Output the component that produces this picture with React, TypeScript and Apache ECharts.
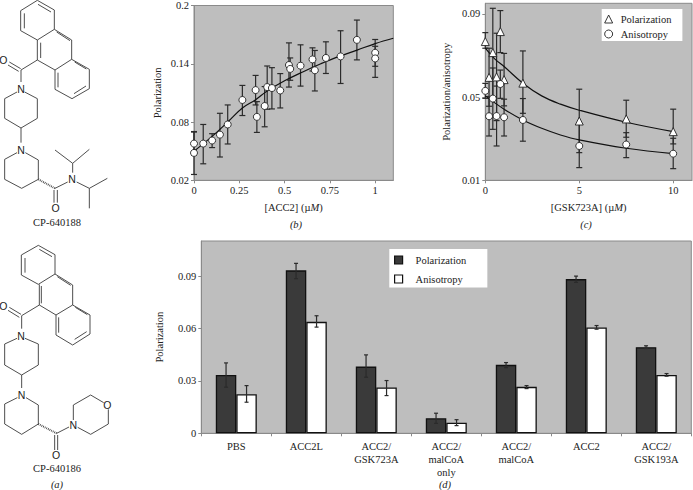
import React, { useEffect, useRef } from "react";
import * as echarts from "echarts";

const SERIF = "'Liberation Serif', 'Times New Roman', serif";
const INK = "#2b2b2b";
const GREY_PLOT = "#bebebe";
const GREY_AXIS = "#8a8a8a";

// Panel (b): x, y, low, high
const acc2Points = [
  [0, 0.0482, 0.026, 0.0702],
  [0, 0.0578, 0.0459, 0.0697],
  [0.051, 0.0578, 0.037, 0.0775],
  [0.1, 0.061, 0.0537, 0.068],
  [0.143, 0.067, 0.044, 0.089],
  [0.186, 0.0775, 0.0574, 0.0976],
  [0.267, 0.1027, 0.0867, 0.1177],
  [0.34, 0.1129, 0.0976, 0.128],
  [0.347, 0.0853, 0.0693, 0.101],
  [0.39, 0.0965, 0.0751, 0.1165],
  [0.404, 0.116, 0.0932, 0.1377],
  [0.43, 0.115, 0.0935, 0.136],
  [0.476, 0.1125, 0.0945, 0.1299],
  [0.524, 0.1387, 0.116, 0.1615],
  [0.531, 0.1347, 0.123, 0.146],
  [0.588, 0.138, 0.117, 0.1595],
  [0.654, 0.1445, 0.1326, 0.1564],
  [0.667, 0.1333, 0.112, 0.1537],
  [0.728, 0.146, 0.13, 0.1626],
  [0.809, 0.1476, 0.1197, 0.174],
  [0.899, 0.1646, 0.144, 0.185],
  [1, 0.1513, 0.1374, 0.165],
  [1, 0.1455, 0.126, 0.158],
];
const acc2Fit = [
  [0, 0.05], [0.1, 0.0652], [0.186, 0.08], [0.267, 0.0945], [0.34, 0.103], [0.4, 0.1115],
  [0.5, 0.1225], [0.6, 0.1316], [0.7, 0.14], [0.8, 0.1476], [0.9, 0.154], [1, 0.1608], [1.1, 0.1663],
];

// Panel (c)
const gskPolarization = [
  [0, 0.0767, 0.0735, 0.081],
  [0.2, 0.0595, 0.0456, 0.0735],
  [0.4, 0.0714, 0.05, 0.0927],
  [0.6, 0.0597, 0.0387, 0.0807],
  [0.8, 0.0815, 0.0714, 0.0916],
  [1, 0.0584, 0.0458, 0.071],
  [2, 0.0567, 0.0422, 0.0722],
  [5, 0.0385, 0.0233, 0.0538],
  [7.5, 0.0395, 0.0307, 0.0485],
  [10, 0.0334, 0.0275, 0.0442],
];
const gskAnisotropy = [
  [0, 0.053, 0.0494, 0.0566],
  [0.2, 0.0408, 0.0313, 0.0503],
  [0.4, 0.0493, 0.0345, 0.064],
  [0.6, 0.0409, 0.0265, 0.0553],
  [0.8, 0.0563, 0.0494, 0.063],
  [1, 0.0403, 0.0313, 0.049],
  [2, 0.039, 0.0288, 0.0493],
  [5, 0.0265, 0.0161, 0.0369],
  [7.5, 0.0272, 0.0209, 0.0329],
  [10, 0.0228, 0.0156, 0.0302],
];
const polarizationFit = [
  [0, 0.0735], [0.5, 0.0684], [1, 0.0647], [2, 0.0567], [3, 0.0506], [4, 0.0466], [5, 0.0437], [7.5, 0.0379], [10, 0.0334],
];
const anisotropyFit = [
  [0, 0.0506], [1, 0.0442], [2, 0.039], [3, 0.035], [4, 0.0318], [5, 0.0294], [7.5, 0.0254], [10, 0.0228],
];

// Panel (d)
const conditions = ["PBS", "ACC2L", "ACC2/\nGSK723A", "ACC2/\nmalCoA\nonly", "ACC2/\nmalCoA", "ACC2", "ACC2/\nGSK193A"];
const barPolarization = [0.0334, 0.0933, 0.0382, 0.0086, 0.0392, 0.0883, 0.0493];
const barPolarizationLow = [0.0264, 0.0885, 0.0321, 0.0057, 0.0376, 0.0864, 0.0485];
const barPolarizationHigh = [0.0403, 0.0973, 0.0449, 0.0115, 0.0405, 0.09, 0.0501];
const barAnisotropy = [0.0224, 0.0638, 0.0262, 0.0061, 0.0266, 0.0606, 0.0334];
const barAnisotropyLow = [0.0178, 0.0608, 0.0216, 0.0044, 0.0256, 0.0596, 0.0327];
const barAnisotropyHigh = [0.0273, 0.0673, 0.0302, 0.0078, 0.0273, 0.0617, 0.0342];

const ticksB = [0.02, 0.08, 0.14, 0.2];
const ticksBX = [0, 0.25, 0.5, 0.75, 1];
const ticksC = [0.01, 0.05, 0.09];
const ticksCX = [0, 5, 10];
const ticksD = [0, 0.03, 0.06, 0.09];

// Structure drawings, in 3x-zoom coordinates of the page
const structureA: number[][][] = [
  [[112, 1], [163, 30], [163, 88], [112, 120], [62, 92], [62, 32], [112, 1]],
  [[163, 88], [215, 120], [215, 178], [165, 210], [112, 180], [112, 120]],
  [[215, 178], [268, 208], [268, 266], [216, 296], [165, 268], [165, 210]],
  [[73, 40], [73, 85]], [[114, 13], [153, 36]], [[122, 128], [122, 174]], [[170, 96], [210, 122]],
  [[224, 186], [259, 207]], [[258, 258], [222, 281]], [[174, 218], [174, 262]],
  [[112, 180], [63, 210]], [[63, 210], [63, 246]], [[62, 206], [28, 186]], [[56, 214], [24, 195]],
  [[74, 276], [112, 296], [112, 355], [63, 384], [14, 355], [14, 296], [51, 276]],
  [[63, 384], [63, 428]],
  [[76, 458], [115, 480], [115, 538], [65, 565], [14, 538], [14, 478], [51, 458]],
  [[165, 565], [203, 546]], [[162, 570], [162, 608]], [[172, 570], [172, 608]],
  [[218, 518], [218, 490]], [[218, 490], [165, 450]], [[218, 490], [268, 448]],
  [[230, 546], [268, 565]], [[268, 565], [322, 535]], [[268, 565], [268, 625]],
];
const hashA: number[][][] = [[[115, 538], [165, 565]]];
const atomsA: [string, number, number][] = [
  ["O", 10, 180], ["N", 63, 268], ["N", 63, 450], ["N", 216, 537], ["O", 167, 625],
];

const structureB: number[][][] = [
  [[115, -14], [165, 14], [165, 72], [115, 103], [64, 75], [64, 15], [115, -14]],
  [[165, 72], [218, 105], [218, 165], [168, 195], [118, 165], [118, 103]],
  [[218, 165], [270, 195], [270, 252], [218, 285], [168, 255], [168, 195]],
  [[75, 24], [75, 68]], [[118, -2], [156, 20]], [[124, 108], [124, 160]], [[172, 80], [212, 106]],
  [[226, 172], [262, 194]], [[260, 245], [224, 268]], [[176, 202], [176, 248]],
  [[118, 165], [65, 197]], [[65, 197], [65, 236]], [[63, 193], [28, 172]], [[58, 202], [24, 181]],
  [[75, 265], [115, 282], [115, 345], [65, 375], [14, 345], [14, 282], [51, 265]],
  [[65, 375], [65, 414]],
  [[78, 443], [115, 465], [115, 522], [65, 553], [14, 522], [14, 462], [52, 443]],
  [[170, 550], [207, 531]], [[164, 555], [164, 600]], [[173, 555], [173, 600]],
  [[220, 510], [220, 465], [272, 435], [311, 458]], [[325, 478], [325, 522], [272, 553], [233, 532]],
];
const hashB: number[][][] = [[[115, 522], [170, 550]]];
const atomsB: [string, number, number][] = [
  ["O", 10, 167], ["N", 63, 257], ["N", 65, 435], ["N", 220, 525], ["O", 322, 465], ["O", 168, 615],
];

function structureGraphics(lines: number[][][], hash: number[][][], atoms: [string, number, number][], dy: number) {
  const out: any[] = [];
  for (const l of lines) {
    out.push({
      type: "polyline",
      silent: true,
      shape: { points: l.map(([x, y]) => [x / 3, y / 3 + dy]) },
      style: { stroke: "#3a3a3a", lineWidth: 0.9, fill: "none" },
    });
  }
  for (const l of hash) {
    out.push({
      type: "line",
      silent: true,
      shape: { x1: l[0][0] / 3, y1: l[0][1] / 3 + dy, x2: l[1][0] / 3, y2: l[1][1] / 3 + dy },
      style: { stroke: "#3a3a3a", lineWidth: 2, lineDash: [0.8, 1] },
    });
  }
  for (const [t, x, y] of atoms) {
    out.push({
      type: "text",
      silent: true,
      x: x / 3,
      y: y / 3 + dy,
      style: { text: t, font: "10.5px 'Liberation Sans', Arial, sans-serif", fill: "#222", align: "center", verticalAlign: "middle" },
    });
  }
  return out;
}

function label(text: string, x: number, y: number) {
  return {
    type: "text",
    silent: true,
    x,
    y,
    style: { text, font: `10.5px ${SERIF}`, fill: "#222", align: "center", verticalAlign: "middle" },
  };
}

function panelLetter(letter: string, x: number, y: number) {
  return {
    type: "text",
    silent: true,
    x,
    y,
    style: {
      text: `(${letter})`,
      font: `italic 10.5px ${SERIF}`,
      fill: "#222",
      align: "center",
      verticalAlign: "middle",
    },
  };
}

function errorSeries(rows: number[][], axisIndex: number, dx = 0, cap = 3) {
  return {
    type: "custom",
    xAxisIndex: axisIndex,
    yAxisIndex: axisIndex,
    z: 3,
    silent: true,
    data: rows,
    encode: { x: 0, y: [2, 3] },
    renderItem: (_: any, api: any) => {
      const lo = api.coord([api.value(0), api.value(2)]);
      const hi = api.coord([api.value(0), api.value(3)]);
      const x = lo[0] + dx;
      const style = { stroke: INK, lineWidth: 1.2, fill: "none" };
      return {
        type: "group",
        children: [
          { type: "line", shape: { x1: x, y1: lo[1], x2: x, y2: hi[1] }, style },
          { type: "line", shape: { x1: x - cap, y1: lo[1], x2: x + cap, y2: lo[1] }, style },
          { type: "line", shape: { x1: x - cap, y1: hi[1], x2: x + cap, y2: hi[1] }, style },
        ],
      };
    },
  };
}

function fitSeries(data: number[][], axisIndex: number) {
  return {
    type: "line",
    xAxisIndex: axisIndex,
    yAxisIndex: axisIndex,
    data,
    smooth: 0.4,
    symbol: "none",
    z: 4,
    silent: true,
    lineStyle: { color: "#111", width: 1.2 },
  };
}

function pointSeries(name: string, rows: number[][], axisIndex: number, symbol: string, size: number) {
  return {
    type: "scatter",
    name,
    xAxisIndex: axisIndex,
    yAxisIndex: axisIndex,
    data: rows.map((r) => [r[0], r[1]]),
    symbol,
    symbolSize: size,
    clip: false,
    z: 5,
    itemStyle: { color: "#fff", borderColor: "#222", borderWidth: 0.9, opacity: 1 },
  };
}

const axisLine = { show: true, lineStyle: { color: GREY_AXIS, width: 1 } };
const axisTick = { show: true, length: 3, lineStyle: { color: GREY_AXIS, width: 1 } };
const axisText = { color: "#222", fontFamily: SERIF, fontSize: 10.5 };
const nameRich = { i: { fontStyle: "italic", fontFamily: SERIF, fontSize: 10.5, color: "#222" } };

function valueAxis(gridIndex: number, min: number, max: number, ticks: number[], extra: any = {}) {
  return {
    type: "value",
    gridIndex,
    min,
    max,
    splitLine: { show: false },
    axisLine,
    axisTick: { ...axisTick, customValues: ticks },
    axisLabel: { ...axisText, margin: 5, customValues: ticks, formatter: (v: number) => String(v) },
    nameTextStyle: { ...axisText, rich: nameRich },
    ...extra,
  };
}

function buildOption() {
  return {
    animation: false,
    backgroundColor: "#fff",
    textStyle: { fontFamily: SERIF },
    grid: [
      { left: 194, top: 4, width: 199.3, height: 176.3, show: true, backgroundColor: GREY_PLOT, borderColor: GREY_AXIS, borderWidth: 1 },
      { left: 485.3, top: 3.3, width: 206.7, height: 177, show: true, backgroundColor: GREY_PLOT, borderColor: GREY_AXIS, borderWidth: 1 },
      { left: 201.3, top: 241, width: 490, height: 192.3, show: true, backgroundColor: GREY_PLOT, borderColor: GREY_AXIS, borderWidth: 1 },
    ],
    xAxis: [
      valueAxis(0, 0, 1.1, ticksBX, { name: "[ACC2] (µ{i|M})", nameLocation: "middle", nameGap: 22 }),
      valueAxis(1, 0, 11, ticksCX, { name: "[GSK723A] (µ{i|M})", nameLocation: "middle", nameGap: 22 }),
      {
        type: "category",
        gridIndex: 2,
        data: conditions,
        splitLine: { show: false },
        axisLine,
        axisTick: { ...axisTick, alignWithLabel: false },
        axisLabel: { ...axisText, margin: 7, lineHeight: 13, interval: 0 },
      },
    ],
    yAxis: [
      valueAxis(0, 0.02, 0.2, ticksB, { name: "Polarization", nameLocation: "middle", nameGap: 31 }),
      valueAxis(1, 0.01, 0.0951, ticksC, { name: "Polarization/anisotropy", nameLocation: "middle", nameGap: 33 }),
      valueAxis(2, 0, 0.1101, ticksD, { name: "Polarization", nameLocation: "middle", nameGap: 36 }),
    ],
    legend: [
      {
        left: 601.7,
        top: 9,
        orient: "vertical",
        selectedMode: false,
        backgroundColor: "#fff",
        padding: [4.5, 11, 1.5, 2.5],
        itemGap: 4,
        itemWidth: 8,
        itemHeight: 8,
        textStyle: { ...axisText, padding: [0, 0, 0, 3] },
        data: [
          { name: "Polarization", icon: "triangle", itemStyle: { color: "#fff", borderColor: "#222", borderWidth: 0.9 } },
          { name: "Anisotropy", icon: "circle", itemStyle: { color: "#fff", borderColor: "#222", borderWidth: 0.9 } },
        ],
      },
      {
        left: 389.3,
        top: 249,
        orient: "vertical",
        selectedMode: false,
        backgroundColor: "#fff",
        padding: [5.5, 21, 3, 4.7],
        itemGap: 8,
        itemWidth: 8,
        itemHeight: 8,
        textStyle: { ...axisText, padding: [0, 0, 0, 8] },
        data: [
          { name: "Polarization", icon: "rect", itemStyle: { color: "#3a3a3a", borderColor: "#111", borderWidth: 1.2 } },
          { name: "Anisotropy", icon: "rect", itemStyle: { color: "#fff", borderColor: "#111", borderWidth: 1.2 } },
        ],
      },
    ],
    series: [
      errorSeries(acc2Points.map((r) => [r[0], r[1], r[2], r[3]]), 0),
      fitSeries(acc2Fit, 0),
      pointSeries("ACC2 titration", acc2Points, 0, "circle", 7),

      errorSeries(gskPolarization, 1),
      errorSeries(gskAnisotropy, 1),
      fitSeries(polarizationFit, 1),
      fitSeries(anisotropyFit, 1),
      pointSeries("Polarization", gskPolarization, 1, "triangle", 8),
      pointSeries("Anisotropy", gskAnisotropy, 1, "circle", 7),

      {
        type: "bar",
        name: "Polarization",
        xAxisIndex: 2,
        yAxisIndex: 2,
        data: barPolarization,
        barWidth: 20.5,
        barGap: 0,
        z: 2,
        itemStyle: { color: "#3a3a3a", borderColor: "#111", borderWidth: 1.3 },
      },
      {
        type: "bar",
        name: "Anisotropy",
        xAxisIndex: 2,
        yAxisIndex: 2,
        data: barAnisotropy,
        barWidth: 20.5,
        barGap: 0,
        z: 2,
        itemStyle: { color: "#fff", borderColor: "#111", borderWidth: 1.3 },
      },
      errorSeries(conditions.map((_, i) => [i, barPolarization[i], barPolarizationLow[i], barPolarizationHigh[i]]), 2, -10.25, 2),
      errorSeries(conditions.map((_, i) => [i, barAnisotropy[i], barAnisotropyLow[i], barAnisotropyHigh[i]]), 2, 10.25, 2),
    ],
    graphic: [
      ...structureGraphics(structureA, hashA, atomsA, 0),
      ...structureGraphics(structureB, hashB, atomsB, 250),
      label("CP-640188", 57, 222),
      label("CP-640186", 57, 468),
      panelLetter("a", 57, 484),
      panelLetter("b", 296, 224),
      panelLetter("c", 586, 224),
      panelLetter("d", 445, 484),
    ],
  };
}

export default function App() {
  const ref = useRef<HTMLDivElement>(null);
  useEffect(() => {
    if (!ref.current) return;
    const chart = echarts.init(ref.current, undefined, { renderer: "svg" });
    chart.setOption(buildOption() as any);
    return () => chart.dispose();
  }, []);
  return <div ref={ref} style={{ position: "absolute", left: 0, top: 0, width: 693, height: 490 }} />;
}
